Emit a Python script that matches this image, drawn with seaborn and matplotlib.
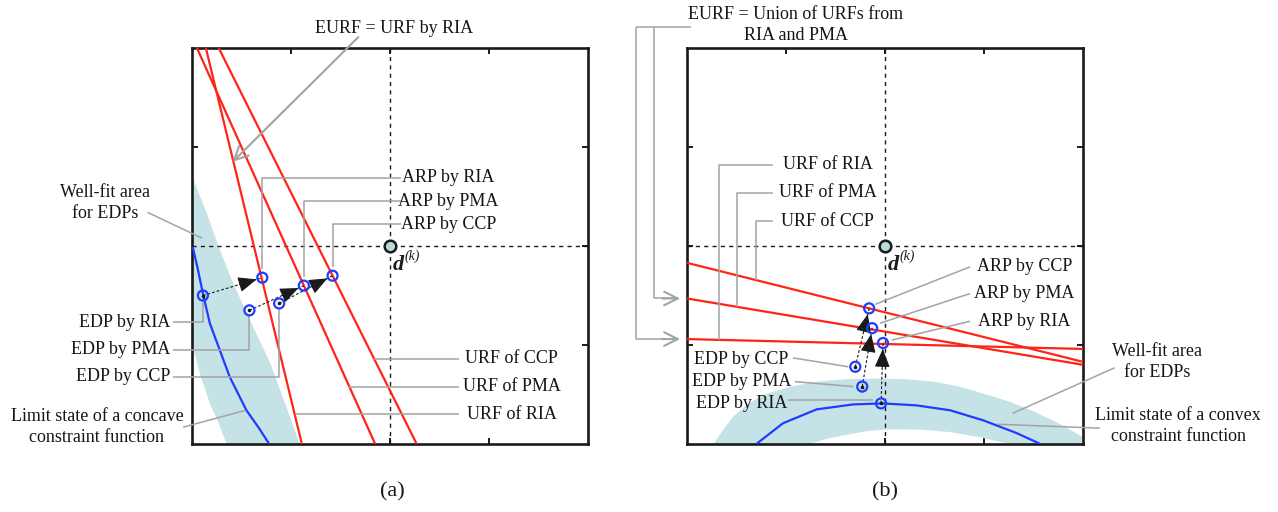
import numpy as np
import pandas as pd
import matplotlib
matplotlib.use("Agg")
import matplotlib.pyplot as plt
import seaborn as sns

# ---------------- data (axis units 0..4, design point at (2,2)) ----------------
METHODS = ["RIA", "PMA", "CCP"]
TICKS = [1, 2, 3]
D_K = [2.0, 2.0]

# panel (a): concave constraint
a_urf_top_x = [0.14, 0.05, 0.27]      # x where each URF meets y = 4
a_urf_bot_x = [1.11, 1.85, 2.27]      # x where each URF meets y = 0
a_urf_ends_y = [4.0, 0.0]
a_limit_x = [0.01, 0.06, 0.11, 0.18, 0.28, 0.38, 0.55, 0.67, 0.78]
a_limit_y = [1.98, 1.76, 1.52, 1.22, 0.95, 0.68, 0.34, 0.17, 0.00]
a_band_right_x = [0.00, 0.15, 0.27, 0.40, 0.54, 0.67, 0.79, 0.94, 1.09]
a_band_right_y = [2.70, 2.33, 1.99, 1.66, 1.35, 1.07, 0.82, 0.41, 0.00]
a_band_left_x = [0.35, 0.27, 0.18, 0.08, 0.00]
a_band_left_y = [0.00, 0.21, 0.41, 0.71, 1.02]
a_edp_x = [0.11, 0.58, 0.88]
a_edp_y = [1.50, 1.35, 1.42]
a_arp_x = [0.71, 1.13, 1.42]
a_arp_y = [1.68, 1.60, 1.70]

# panel (b): convex constraint
b_urf_left_y = [1.06, 1.47, 1.83]     # y where each URF meets x = 0
b_urf_right_y = [0.96, 0.80, 0.83]    # y where each URF meets x = 4
b_urf_ends_x = [0.0, 4.0]
b_limit_x = [0.70, 0.97, 1.31, 1.68, 1.98, 2.32, 2.66, 2.99, 3.33, 3.57]
b_limit_y = [0.00, 0.21, 0.35, 0.40, 0.41, 0.39, 0.34, 0.24, 0.11, 0.00]
b_band_outer_x = [0.27, 0.37, 0.47, 0.62, 0.81, 1.05, 1.31, 1.60, 1.92, 2.20,
                  2.49, 2.75, 2.99, 3.25, 3.50, 3.75, 4.00, 4.00]
b_band_outer_y = [0.00, 0.15, 0.28, 0.41, 0.51, 0.58, 0.63, 0.655, 0.66, 0.655,
                  0.63, 0.58, 0.51, 0.43, 0.33, 0.21, 0.07, 0.00]
b_band_inner_x = [3.26, 2.95, 2.66, 2.37, 2.08, 1.85, 1.65, 1.44, 1.24]
b_band_inner_y = [0.00, 0.07, 0.12, 0.145, 0.15, 0.135, 0.10, 0.06, 0.00]
b_edp_x = [1.96, 1.77, 1.70]
b_edp_y = [0.41, 0.58, 0.78]
b_arp_x = [1.98, 1.87, 1.84]
b_arp_y = [1.02, 1.17, 1.37]

# ---------------- style ----------------
sns.set_theme(style="white")
plt.rcParams["font.family"] = ["Liberation Serif", "DejaVu Serif"]
RED = "#ff2418"
BLUE = "#1f3cff"
BAND = "#c5e2e6"
GRAY = "#a3a3a3"
TXT = "#161616"
FS = 13
LS = 1.3

fig = plt.figure(figsize=(12.78, 5.12), dpi=100)
axA = fig.add_axes([192 / 1278, 68 / 512, 396 / 1278, 396 / 512])
axB = fig.add_axes([687 / 1278, 68 / 512, 396 / 1278, 396 / 512])


def frame(ax):
    ax.set_xlim(0, 4)
    ax.set_ylim(0, 4)
    ax.set_xticks(TICKS)
    ax.set_yticks(TICKS)
    ax.set_xticklabels([])
    ax.set_yticklabels([])
    ax.tick_params(direction="in", length=4, width=1.4, color="k",
                   top=True, right=True, bottom=True, left=True)
    for s in ax.spines.values():
        s.set_visible(True)
        s.set_color("k")
        s.set_linewidth(1.9)
    ax.axvline(D_K[0], ls=(0, (3, 3)), lw=1.0, color="k", zorder=2)
    ax.axhline(D_K[1], ls=(0, (3, 3)), lw=1.0, color="k", zorder=2)


def label(ax, x, y, s, ha="center"):
    ax.text(x, y, s, ha=ha, va="center", fontsize=FS, color=TXT,
            linespacing=LS, clip_on=False, zorder=10)


def leader(ax, xs, ys):
    ax.plot(xs, ys, color=GRAY, lw=1.1, clip_on=False, zorder=6,
            solid_capstyle="butt")


def dk(ax):
    sns.scatterplot(x=[D_K[0]], y=[D_K[1]], ax=ax, s=70, color="#b5dbdb",
                    edgecolor="k", linewidth=1.8, zorder=9, legend=False)
    ax.text(D_K[0] + 0.03, D_K[1] - 0.24, "d", fontsize=16, fontweight="bold",
            fontstyle="italic", color="k", ha="left", va="baseline", zorder=10)
    ax.text(D_K[0] + 0.15, D_K[1] - 0.10, "(k)", fontsize=10, fontstyle="italic",
            color="k", ha="left", va="center", zorder=10)


def moves(ax, ex, ey, px, py):
    for x0, y0, x1, y1 in zip(ex, ey, px, py):
        ax.plot([x0, x1], [y0, y1], ls=(0, (2.5, 1.8)), lw=0.8, color="k", zorder=7)
        v = np.array([x1 - x0, y1 - y0])
        u = v / np.hypot(*v)
        tip = np.array([x1, y1]) - u * 0.06
        tail = tip - u * 0.18
        ax.annotate("", xy=tip, xytext=tail,
                    arrowprops=dict(arrowstyle="-|>,head_length=0.6,head_width=0.25",
                                    color="k", lw=0.8, shrinkA=0, shrinkB=0,
                                    mutation_scale=19), zorder=8)
    sns.scatterplot(x=ex, y=ey, ax=ax, s=7, color="k", linewidth=0, zorder=9, legend=False)
    pts = pd.DataFrame({"x": list(ex) + list(px), "y": list(ey) + list(py)})
    sns.scatterplot(data=pts, x="x", y="y", ax=ax, s=52, facecolor="none",
                    edgecolor=BLUE, linewidth=1.6, zorder=9, legend=False)


# ======================= panel (a) =======================
ax = axA
frame(ax)
ax.fill(a_band_right_x + a_band_left_x, a_band_right_y + a_band_left_y,
        color=BAND, lw=0, zorder=1)
urfA = pd.DataFrame({
    "m": np.repeat(METHODS, 2),
    "x": np.ravel(np.column_stack([a_urf_top_x, a_urf_bot_x])),
    "y": np.tile(a_urf_ends_y, 3),
})
sns.lineplot(data=urfA, x="x", y="y", units="m", estimator=None, sort=False,
             color=RED, lw=1.6, ax=ax, zorder=4, legend=False)
sns.lineplot(x=a_limit_x, y=a_limit_y, sort=False, estimator=None, color=BLUE,
             lw=1.6, ax=ax, zorder=4, legend=False)
moves(ax, a_edp_x, a_edp_y, a_arp_x, a_arp_y)
dk(ax)

# EURF arrow
ax.text(2.04, 4.20, "EURF = URF by RIA", ha="center", va="center", fontsize=FS,
        color=TXT, clip_on=False)
ax.annotate("", xy=(0.41, 2.85), xytext=(1.68, 4.11),
            arrowprops=dict(arrowstyle="->,head_length=0.7,head_width=0.35",
                            color=GRAY, lw=1.5, shrinkA=0, shrinkB=0,
                            mutation_scale=14), annotation_clip=False, zorder=8)

# ARP labels
for i, yl in zip(range(3), [2.69, 2.45, 2.22]):
    label(ax, 2.59, yl, "ARP by " + METHODS[i])
    leader(ax, [2.11, a_arp_x[i], a_arp_x[i]], [yl, yl, a_arp_y[i] + 0.09])

# URF labels
for i, yl in zip([2, 1, 0], [0.86, 0.58, 0.30]):
    label(ax, 3.23, yl, "URF of " + METHODS[i])
    xl = np.interp(yl, a_urf_ends_y[::-1], [a_urf_bot_x[i], a_urf_top_x[i]])
    leader(ax, [2.70, xl], [yl, yl])

# EDP labels
for i, yl in zip(range(3), [1.23, 0.95, 0.68]):
    label(ax, -0.22, yl, "EDP by " + METHODS[i], ha="right")
    leader(ax, [-0.19, a_edp_x[i], a_edp_x[i]], [yl, yl, a_edp_y[i] - 0.06])

label(ax, -0.88, 2.43, "Well-fit area\nfor EDPs")
leader(ax, [-0.45, 0.10], [2.34, 2.08])
label(ax, -0.96, 0.17, "Limit state of a concave\nconstraint function")
leader(ax, [-0.09, 0.54], [0.17, 0.34])
ax.set_xlabel("")
ax.set_ylabel("")

# ======================= panel (b) =======================
ax = axB
frame(ax)
ax.fill(b_band_outer_x + b_band_inner_x, b_band_outer_y + b_band_inner_y,
        color=BAND, lw=0, zorder=1)
urfB = pd.DataFrame({
    "m": np.repeat(METHODS, 2),
    "x": np.tile(b_urf_ends_x, 3),
    "y": np.ravel(np.column_stack([b_urf_left_y, b_urf_right_y])),
})
sns.lineplot(data=urfB, x="x", y="y", units="m", estimator=None, sort=False,
             color=RED, lw=1.6, ax=ax, zorder=4, legend=False)
sns.lineplot(x=b_limit_x, y=b_limit_y, sort=False, estimator=None, color=BLUE,
             lw=1.6, ax=ax, zorder=4, legend=False)
moves(ax, b_edp_x, b_edp_y, b_arp_x, b_arp_y)
dk(ax)

# EURF elbow arrows
ax.text(1.10, 4.23, "EURF = Union of URFs from\nRIA and PMA", ha="center",
        va="center", fontsize=FS, color=TXT, linespacing=LS, clip_on=False)
leader(ax, [0.04, -0.52], [4.21, 4.21])
for xv, i in zip([-0.52, -0.33], [0, 1]):
    yv = b_urf_left_y[i]
    leader(ax, [xv, xv, -0.12], [4.21, yv, yv])
    ax.annotate("", xy=(-0.07, yv), xytext=(-0.25, yv),
                arrowprops=dict(arrowstyle="->,head_length=0.7,head_width=0.35",
                                color=GRAY, lw=1.5, shrinkA=0, shrinkB=0,
                                mutation_scale=14), annotation_clip=False, zorder=8)

# URF labels
for i, yl, xc in zip(range(3), [2.82, 2.54, 2.25], [0.32, 0.51, 0.70]):
    label(ax, 1.42, yl, "URF of " + METHODS[i])
    yv = np.interp(xc, b_urf_ends_x, [b_urf_left_y[i], b_urf_right_y[i]])
    leader(ax, [0.87, xc, xc], [yl, yl, yv])

# ARP labels
for i, yl, (xe, ye) in zip([2, 1, 0], [1.79, 1.52, 1.24],
                           [(1.90, 1.41), (1.95, 1.22), (2.07, 1.05)]):
    label(ax, 3.41, yl, "ARP by " + METHODS[i])
    leader(ax, [2.86, xe], [yl, ye])

# EDP labels
for i, yl, (xs, xe, ye) in zip([2, 1, 0], [0.85, 0.63, 0.41],
                               [(1.07, 1.63, 0.78), (1.09, 1.68, 0.58), (1.02, 1.88, 0.44)]):
    label(ax, 0.55, yl, "EDP by " + METHODS[i])
    leader(ax, [xs, xe], [yl + (0.02 if i == 2 else 0.0) + (0.03 if i == 0 else 0.0), ye])

label(ax, 4.75, 0.83, "Well-fit area\nfor EDPs")
leader(ax, [4.32, 3.29], [0.77, 0.31])
label(ax, 4.96, 0.18, "Limit state of a convex\nconstraint function")
leader(ax, [4.17, 3.13], [0.16, 0.20])
ax.set_xlabel("")
ax.set_ylabel("")

fig.text(392 / 1278, 1 - 492 / 512, "(a)", ha="center", va="center", fontsize=16, color=TXT)
fig.text(885 / 1278, 1 - 492 / 512, "(b)", ha="center", va="center", fontsize=16, color=TXT)

fig.savefig("out.png", dpi=100, facecolor="white")
